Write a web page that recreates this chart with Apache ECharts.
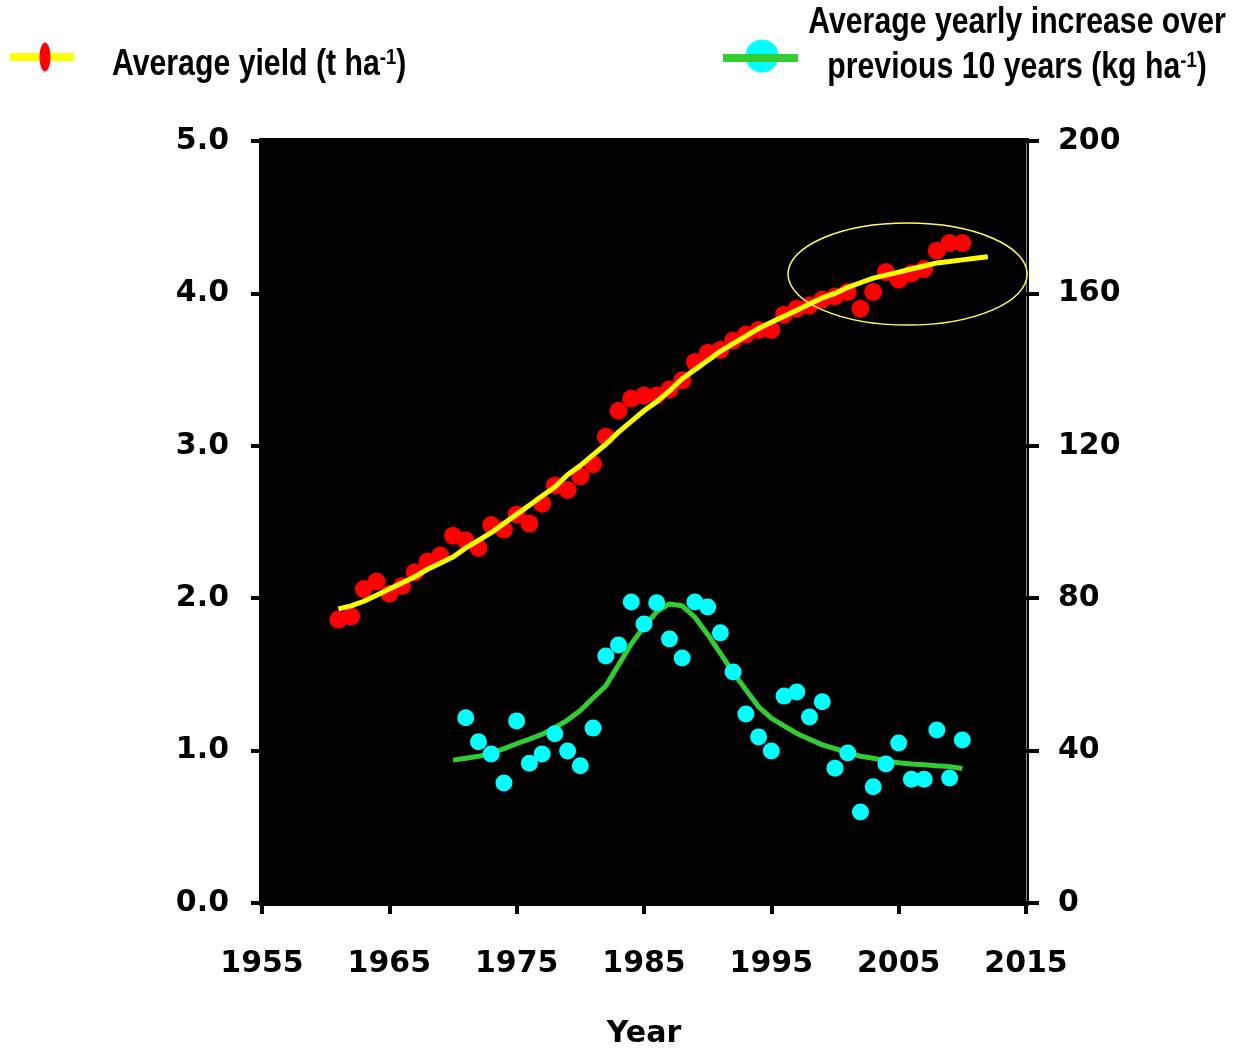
<!DOCTYPE html>
<html>
<head>
<meta charset="utf-8">
<script src="https://cdn.jsdelivr.net/npm/echarts@6/dist/echarts.min.js"></script>
<style>
html,body{margin:0;padding:0;background:#fff;}
#c{width:1233px;height:1050px;}
</style>
</head>
<body>
<div id="c"></div>
<script>
// ---- Data ----
const yieldYears = [];
for (let y = 1961; y <= 2010; y++) yieldYears.push(y);
const yieldValues = [1.86,1.88,2.06,2.11,2.03,2.08,2.17,2.24,2.28,2.41,
                     2.38,2.33,2.48,2.45,2.55,2.49,2.62,2.74,2.71,2.80,
                     2.88,3.06,3.23,3.31,3.33,3.33,3.37,3.43,3.55,3.61,
                     3.63,3.69,3.73,3.76,3.76,3.86,3.90,3.92,3.96,3.98,
                     4.01,3.90,4.01,4.14,4.09,4.13,4.16,4.28,4.33,4.33];

const fitYears = [];
for (let y = 1961; y <= 2012; y++) fitYears.push(y);
const fitValues = [1.93,1.95,1.98,2.02,2.06,2.10,2.14,2.19,2.23,2.27,
                   2.33,2.38,2.43,2.49,2.55,2.61,2.67,2.73,2.81,2.87,
                   2.94,3.01,3.09,3.16,3.23,3.29,3.36,3.44,3.50,3.56,
                   3.62,3.67,3.72,3.77,3.81,3.85,3.89,3.93,3.97,4.00,
                   4.04,4.07,4.10,4.12,4.14,4.16,4.18,4.20,4.21,4.22,
                   4.23,4.24];

const incYears = [];
for (let y = 1971; y <= 2010; y++) incYears.push(y);
const incValues = [48.6,42.3,39.1,31.5,47.8,36.7,39.1,44.4,39.9,36.0,
                   45.9,64.8,67.7,79.0,73.2,78.8,69.3,64.3,79.0,77.7,
                   70.9,60.6,49.6,43.6,39.9,54.3,55.4,48.8,52.8,35.4,
                   39.4,23.9,30.5,36.5,42.0,32.5,32.5,45.4,32.8,42.8];

const incFitYears = [];
for (let y = 1970; y <= 2010; y++) incFitYears.push(y);
const incFitValues = [37.5,38.0,38.5,39.3,40.5,41.8,43.0,44.3,46.0,48.0,
                      50.5,53.8,57.0,62.5,68.0,72.5,76.5,78.5,78.0,75.0,
                      70.5,65.5,60.5,56.0,51.5,48.5,46.5,44.5,43.0,41.5,
                      40.5,39.5,38.5,38.0,37.3,36.8,36.5,36.3,36.0,35.8,
                      35.3];

// highlighted region (ellipse): centre year, centre yield, half-width (years), half-height (t/ha)
const highlight = [2005.7, 4.127, 9.39, 0.335];

const xTicks = {min: 1955, max: 2015, step: 10};
const yLeftTicks = {min: 0, max: 5, step: 1};
const yRightTicks = {min: 0, max: 200, step: 40};

const pair = (xs, vs) => xs.map((x, i) => [x, vs[i]]);

const tickFont = "'DejaVu Sans', sans-serif";
const legFont = "'Liberation Sans', Arial, sans-serif";
const narrow = 0.84;

const chart = echarts.init(document.getElementById('c'), null, {renderer: 'canvas'});

const supStyle = {fontSize: 22, fontWeight: 'bold', fontFamily: legFont, fill: '#000', verticalAlign: 'top', padding: [0,0,14,0]};

const option = {
  backgroundColor: '#ffffff',
  animation: false,
  grid: {
    left: 262, right: 207, top: 141, bottom: 147,
    containLabel: false, outerBoundsMode: 'none',
    show: true, backgroundColor: '#000000', borderColor: '#000000', borderWidth: 6
  },
  xAxis: {
    type: 'value', min: xTicks.min, max: xTicks.max, interval: xTicks.step,
    splitLine: {show: false},
    axisLine: {show: false},
    axisTick: {show: true, inside: false, length: 11, lineStyle: {color: '#000', width: 4}},
    axisLabel: {color: '#000', fontFamily: tickFont, fontWeight: 'bold', fontSize: 30, margin: 46,
                formatter: v => String(v)},
    name: 'Year', nameLocation: 'middle', nameGap: 116,
    nameTextStyle: {color: '#000', fontFamily: tickFont, fontWeight: 'bold', fontSize: 30}
  },
  yAxis: [{
    type: 'value', min: yLeftTicks.min, max: yLeftTicks.max, interval: yLeftTicks.step,
    position: 'left',
    splitLine: {show: false},
    axisLine: {show: false},
    axisTick: {show: true, inside: false, length: 11, lineStyle: {color: '#000', width: 4}},
    axisLabel: {color: '#000', fontFamily: tickFont, fontWeight: 'bold', fontSize: 30, margin: 33,
                formatter: v => v.toFixed(1)}
  }, {
    type: 'value', min: yRightTicks.min, max: yRightTicks.max, interval: yRightTicks.step,
    position: 'right',
    splitLine: {show: false},
    axisLine: {show: true, lineStyle: {color: '#888', width: 1}},
    axisTick: {show: true, inside: false, length: 13, lineStyle: {color: '#000', width: 4}},
    axisLabel: {color: '#000', fontFamily: tickFont, fontWeight: 'bold', fontSize: 30, margin: 32}
  }],
  series: [{
    name: 'Average yield', type: 'scatter', yAxisIndex: 0,
    data: pair(yieldYears, yieldValues),
    symbol: 'circle', symbolSize: 18,
    itemStyle: {color: '#ff0000', opacity: 1}, z: 2
  }, {
    name: 'Yield fit', type: 'line', yAxisIndex: 0,
    data: pair(fitYears, fitValues),
    showSymbol: false, symbol: 'none',
    lineStyle: {color: '#ffff00', width: 5}, z: 3
  }, {
    name: 'Increase fit', type: 'line', yAxisIndex: 1,
    data: pair(incFitYears, incFitValues),
    showSymbol: false, symbol: 'none',
    lineStyle: {color: '#33cc33', width: 5}, z: 3
  }, {
    name: 'Average yearly increase', type: 'scatter', yAxisIndex: 1,
    data: pair(incYears, incValues),
    symbol: 'circle', symbolSize: 17,
    itemStyle: {color: '#00ffff', opacity: 1}, z: 4
  }, {
    name: 'highlight', type: 'custom', yAxisIndex: 0,
    data: [highlight], silent: true, z: 5,
    clip: false,
    renderItem: function (params, api) {
      const c = api.coord([api.value(0), api.value(1)]);
      const s = api.size([api.value(2), api.value(3)]);
      return {
        type: 'ellipse',
        shape: {cx: c[0], cy: c[1], rx: s[0], ry: s[1]},
        style: {fill: null, stroke: '#ffff55', lineWidth: 1.5}
      };
    }
  }],
  graphic: [
    {type: 'rect', shape: {x: 10, y: 53, width: 64, height: 8}, style: {fill: '#ffff00'}},
    {type: 'ellipse', shape: {cx: 45, cy: 57, rx: 5.5, ry: 14.5}, style: {fill: '#ff0000'}},
    {type: 'text', x: 112, y: 65, scaleX: narrow,
     style: {text: 'Average yield (t ha{sup|-1})', fill: '#000', font: "bold 36px " + legFont,
             align: 'left', verticalAlign: 'middle', rich: {sup: supStyle}}},
    {type: 'circle', shape: {cx: 762, cy: 56, r: 16.5}, style: {fill: '#00ffff'}},
    {type: 'rect', shape: {x: 723, y: 54, width: 75, height: 8}, style: {fill: '#33cc33'}},
    {type: 'text', x: 1017, y: 23, scaleX: narrow,
     style: {text: 'Average yearly increase over', fill: '#000', font: "bold 36px " + legFont,
             align: 'center', verticalAlign: 'middle'}},
    {type: 'text', x: 1017, y: 68, scaleX: narrow,
     style: {text: 'previous 10 years (kg ha{sup|-1})', fill: '#000', font: "bold 36px " + legFont,
             align: 'center', verticalAlign: 'middle', rich: {sup: supStyle}}}
  ]
};
chart.setOption(option);
</script>
</body>
</html>
